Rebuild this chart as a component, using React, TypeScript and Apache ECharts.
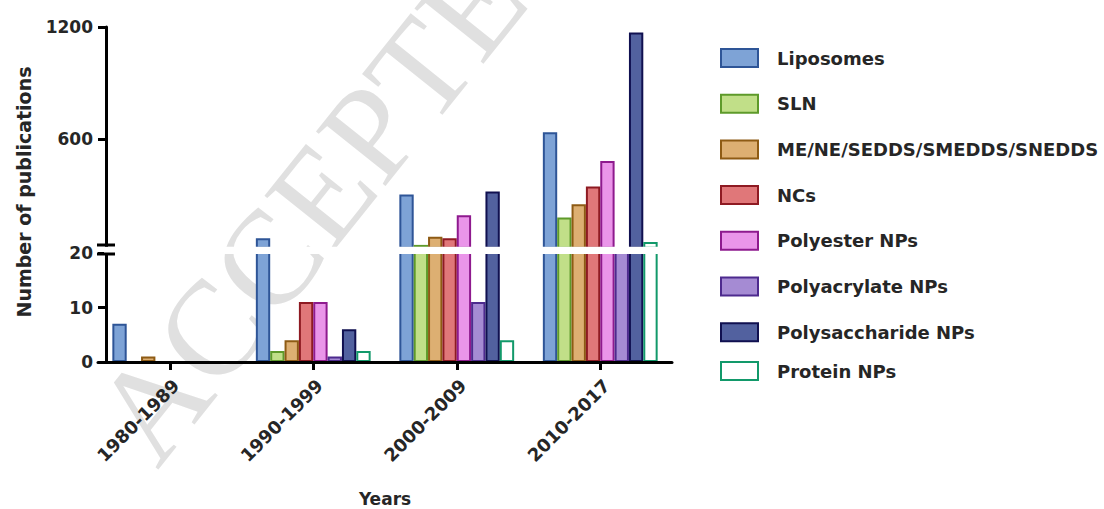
import React, { useEffect, useRef } from "react";
import * as echarts from "echarts";

const categories = ["1980-1989", "1990-1999", "2000-2009", "2010-2017"];
const seriesNames = [
  "Liposomes",
  "SLN",
  "ME/NE/SEDDS/SMEDDS/SNEDDS",
  "NCs",
  "Polyester NPs",
  "Polyacrylate NPs",
  "Polysaccharide NPs",
  "Protein NPs",
];
const liposomes = [7, 70, 305, 637];
const sln = [0, 2, 35, 182];
const meNe = [1, 4, 78, 252];
const ncs = [0, 11, 70, 347];
const polyester = [0, 11, 193, 483];
const polyacrylate = [0, 1, 11, 21];
const polysaccharide = [0, 6, 320, 1171];
const protein = [0, 2, 4, 50];
const seriesValues = [liposomes, sln, meNe, ncs, polyester, polyacrylate, polysaccharide, protein];

const fills = ["#7ea3d6", "#c1df88", "#ddaf72", "#e07779", "#ea95e9", "#a58bd3", "#52619f", "#ffffff"];
const borders = ["#2e5597", "#5e9a2a", "#8e5b14", "#8e1a22", "#8e1a8e", "#4d2a8e", "#101050", "#12996a"];

const lowTicks = [0, 10, 20];
const highTicks = [600, 1200];
const breakAt = 20;

const FONT = "DejaVu Sans";
const TXT = "#262626";

export default function App() {
  const ref = useRef<HTMLDivElement>(null);
  useEffect(() => {
    document.body.style.margin = "0";
    const chart = echarts.init(ref.current!, null, { renderer: "svg" });
    const gridLeft = 98;
    const gridWidth = 574;
    const topGrid = { left: gridLeft, width: gridWidth, top: 27, height: 220.7 };
    const lowGrid = { left: gridLeft, width: gridWidth, top: 253, height: 109 };

    const series: any[] = [];
    seriesNames.forEach((name, i) => {
      const itemStyle = { color: fills[i], borderColor: borders[i], borderWidth: 2 };
      series.push({
        name,
        type: "bar",
        xAxisIndex: 0,
        yAxisIndex: 0,
        data: seriesValues[i],
        itemStyle,
        barGap: "0%",
        barCategoryGap: "20%",
        clip: true,
      });
    });
    seriesNames.forEach((name, i) => {
      const itemStyle = { color: fills[i], borderColor: borders[i], borderWidth: 2 };
      series.push({
        name,
        type: "bar",
        xAxisIndex: 1,
        yAxisIndex: 1,
        data: seriesValues[i].map((v) => (v > breakAt ? v : "-")),
        itemStyle,
        barGap: "0%",
        barCategoryGap: "20%",
        clip: true,
      });
    });

    const axisLine = { show: true, lineStyle: { color: "#000", width: 3 } };
    const axisTick = { show: true, length: 8, lineStyle: { color: "#000", width: 3 } };
    const labelStyle = { fontFamily: FONT, fontWeight: "bold" as const, fontSize: 17, color: TXT };
    const legendBase = {
      orient: "vertical",
      left: 720,
      itemWidth: 37,
      itemHeight: 18,
      itemGap: 25.7,
      padding: 0,
      icon: "rect",
      selectedMode: false,
      textStyle: {
        fontFamily: FONT,
        fontWeight: "bold",
        fontSize: 18,
        color: TXT,
        padding: [0, 0, 0, 14],
      },
    };

    chart.setOption({
      animation: false,
      grid: [lowGrid, topGrid],
      legend: [
        { ...legendBase, top: 48, data: seriesNames.slice(0, 7) },
        { ...legendBase, top: 361, data: seriesNames.slice(7) },
      ],
      xAxis: [
        {
          type: "category",
          gridIndex: 0,
          data: categories,
          z: 10,
          axisLine,
          axisTick: { ...axisTick, alignWithLabel: true },
          axisLabel: {
            ...labelStyle,
            fontSize: 18,
            rotate: 45,
            margin: 14,
            interval: 0,
            verticalAlign: "top",
          },
          name: "Years",
          nameLocation: "middle",
          nameGap: 128,
          nameTextStyle: { fontFamily: FONT, fontWeight: "bold", fontSize: 17, color: TXT },
        },
        {
          type: "category",
          gridIndex: 1,
          data: categories,
          show: false,
        },
      ],
      yAxis: [
        {
          type: "value",
          gridIndex: 0,
          min: lowTicks[0],
          max: lowTicks[lowTicks.length - 1],
          interval: lowTicks[1] - lowTicks[0],
          offset: -8,
          z: 10,
          axisLine,
          axisTick,
          splitLine: { show: false },
          axisLabel: { ...labelStyle, margin: 13, formatter: (v: number) => String(v) },
        },
        {
          type: "value",
          gridIndex: 1,
          min: breakAt,
          max: highTicks[highTicks.length - 1],
          offset: -8,
          z: 10,
          axisLine,
          axisTick: { ...axisTick, customValues: highTicks },
          splitLine: { show: false },
          axisLabel: {
            ...labelStyle,
            margin: 13,
            customValues: highTicks,
            formatter: (v: number) => String(v),
          },
        },
      ],
      graphic: [
        {
          type: "text",
          x: 340,
          y: 170,
          rotation: (51.3 * Math.PI) / 180,
          z: -10,
          silent: true,
          style: {
            text: "ACCEPTED",
            fontFamily: "Liberation Serif",
            fontSize: 135,
            fill: "#e0e0e0",
            align: "center",
            verticalAlign: "middle",
          },
        },
        {
          type: "text",
          x: 24,
          y: 192,
          rotation: Math.PI / 2,
          style: {
            text: "Number of publications",
            fontFamily: FONT,
            fontWeight: "bold",
            fontSize: 19,
            fill: TXT,
            align: "center",
            verticalAlign: "middle",
          },
        },
        {
          type: "rect",
          z: 50,
          silent: true,
          shape: { x: 104, y: 246.7, width: 570, height: 7.3 },
          style: { fill: "#ffffff" },
        },
        {
          type: "line",
          z: 60,
          shape: { x1: 97, y1: 245, x2: 115, y2: 245 },
          style: { stroke: "#000", lineWidth: 3 },
        },
        {
          type: "line",
          z: 60,
          shape: { x1: 97, y1: 254, x2: 115, y2: 254 },
          style: { stroke: "#000", lineWidth: 3 },
        },
      ],
      series,
    });
    return () => chart.dispose();
  }, []);
  return (
    <div
      ref={ref}
      style={{ position: "fixed", left: 0, top: 0, width: 1104, height: 509, background: "#fff" }}
    />
  );
}
